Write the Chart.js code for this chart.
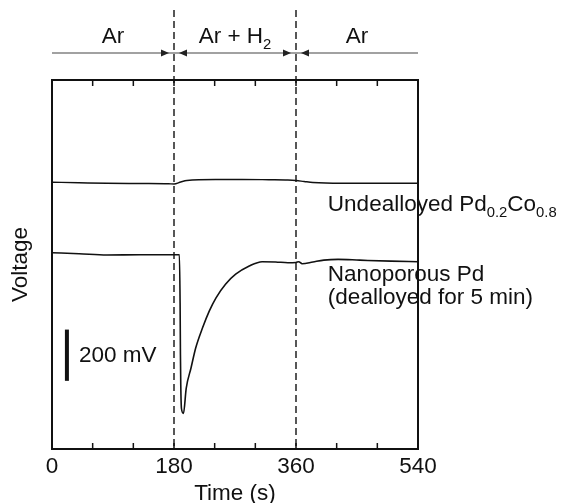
<!DOCTYPE html>
<html>
<head>
<meta charset="utf-8">
<title>Voltage response in Ar / Ar + H2</title>
<script src="https://cdn.jsdelivr.net/npm/chart.js@4.4.1/dist/chart.umd.min.js"></script>
<style>
  html, body { margin: 0; padding: 0; background: #fff; }
  #wrap { width: 565px; height: 503px; position: relative; }
</style>
</head>
<body>
<div id="wrap"><canvas id="voltageChart"></canvas></div>
<script>
/* ================================================
   DATA  (time in s, voltage in mV, arbitrary offset)
================================================ */
const majorTicks    = [0, 180, 360, 540];
const gasSwitches   = [180, 360];
const gasPhaseNames = ['Ar', 'Ar + H', 'Ar'];
const gasPhaseSubs  = ['', '2', ''];

const undealloyedT  = [0, 40, 81, 130, 172, 180, 190, 199, 241, 280, 320, 348, 360, 372, 385, 427, 480, 540];
const undealloyedV  = [1041, 1039, 1037, 1036, 1035, 1034, 1042, 1048, 1052, 1052, 1051, 1050, 1048, 1044, 1040, 1037, 1037, 1037];

const nanoporousT   = [0, 40, 81, 130, 180, 188, 189, 189.5, 190, 191, 194, 198, 205, 212, 222, 232, 242, 256, 271, 291, 310, 330, 348, 360, 364, 369, 385, 401, 422, 454, 500, 540];
const nanoporousV   = [766, 762, 757, 758, 758, 758, 570, 368, 250, 158, 139, 237, 315, 394, 472, 538, 590, 643, 682, 714, 731, 730, 727, 728, 731, 723, 730, 737, 740, 737, 733, 731];

const scaleBarT     = [22, 22];
const scaleBarV     = [266, 466];
const scaleBarLabel = '200 mV';

/* ================================================
   STYLE
================================================ */
const FONT = "'Liberation Sans', Arial, Helvetica, sans-serif";
const INK  = '#111';
const SIZE = 22.5;

const toPoints = (ts, vs) => ts.map((t, i) => ({ x: t, y: vs[i] }));

// draw text made of [text, subscript] pairs
function drawParts(ctx, x, y, parts, align) {
  const sub = SIZE * 0.66;
  let w = 0;
  parts.forEach(([main, s]) => {
    ctx.font = `${SIZE}px ${FONT}`; w += ctx.measureText(main).width;
    ctx.font = `${sub}px ${FONT}`;  w += s ? ctx.measureText(s).width : 0;
  });
  let cx = align === 'center' ? x - w / 2 : x;
  ctx.textAlign = 'left';
  ctx.textBaseline = 'alphabetic';
  parts.forEach(([main, s]) => {
    ctx.font = `${SIZE}px ${FONT}`;
    ctx.fillText(main, cx, y);
    cx += ctx.measureText(main).width;
    if (s) {
      ctx.font = `${sub}px ${FONT}`;
      ctx.fillText(s, cx, y + 6);
      cx += ctx.measureText(s).width;
    }
  });
}

/* ================================================
   FRAME, GAS SWITCHES, ANNOTATIONS
================================================ */
const framePlugin = {
  id: 'frame',
  afterDatasetsDraw(chart) {
    const { ctx, chartArea: a, scales: { x, y } } = chart;
    ctx.save();
    ctx.strokeStyle = INK;
    ctx.fillStyle = INK;

    // box
    ctx.lineWidth = 2;
    ctx.strokeRect(a.left, a.top, a.right - a.left, a.bottom - a.top);

    // inward ticks top + bottom
    ctx.lineWidth = 1.5;
    x.ticks.forEach(t => {
      const px = x.getPixelForValue(t.value);
      ctx.beginPath();
      ctx.moveTo(px, a.bottom); ctx.lineTo(px, a.bottom - 6);
      ctx.moveTo(px, a.top);    ctx.lineTo(px, a.top + 6);
      ctx.stroke();
    });

    // dashed gas switch lines
    ctx.lineWidth = 1.4;
    ctx.setLineDash([7, 4]);
    gasSwitches.forEach(t => {
      const px = x.getPixelForValue(t);
      ctx.beginPath();
      ctx.moveTo(px, a.top - 70);
      ctx.lineTo(px, a.bottom);
      ctx.stroke();
    });
    ctx.setLineDash([]);

    // phase arrow line
    const arrowY = a.top - 27;
    ctx.strokeStyle = '#444';
    ctx.lineWidth = 1.2;
    ctx.beginPath();
    ctx.moveTo(a.left, arrowY);
    ctx.lineTo(a.right, arrowY);
    ctx.stroke();
    ctx.fillStyle = '#222';
    gasSwitches.forEach(t => {
      const px = x.getPixelForValue(t);
      [-1, 1].forEach(side => {
        const tip = px + side * 5, base = px + side * 13;
        ctx.beginPath();
        ctx.moveTo(tip, arrowY);
        ctx.lineTo(base, arrowY - 3.5);
        ctx.lineTo(base, arrowY + 3.5);
        ctx.closePath();
        ctx.fill();
      });
    });

    // phase names
    ctx.fillStyle = INK;
    const bounds = [x.min, ...gasSwitches, x.max];
    gasPhaseNames.forEach((name, i) => {
      const mid = (x.getPixelForValue(bounds[i]) + x.getPixelForValue(bounds[i + 1])) / 2;
      drawParts(ctx, mid, a.top - 37, [[name, gasPhaseSubs[i]]], 'center');
    });

    // curve labels
    const lx = x.getPixelForValue(407);
    drawParts(ctx, lx, y.getPixelForValue(930), [['Undealloyed Pd', '0.2'], ['Co', '0.8']], 'left');
    drawParts(ctx, lx, y.getPixelForValue(655), [['Nanoporous Pd', '']], 'left');
    drawParts(ctx, lx, y.getPixelForValue(565), [['(dealloyed for 5 min)', '']], 'left');

    // scale bar label
    ctx.font = `${SIZE}px ${FONT}`;
    ctx.textAlign = 'left';
    ctx.textBaseline = 'middle';
    ctx.fillText(scaleBarLabel,
      x.getPixelForValue(scaleBarT[0]) + 12,
      y.getPixelForValue((scaleBarV[0] + scaleBarV[1]) / 2) + 1);

    ctx.restore();
  }
};

/* ================================================
   CHART
================================================ */
new Chart(document.getElementById('voltageChart'), {
  type: 'line',
  data: {
    datasets: [
      {
        label: 'Undealloyed Pd0.2Co0.8',
        data: toPoints(undealloyedT, undealloyedV),
        borderColor: INK,
        borderWidth: 1.4,
        pointRadius: 0,
        cubicInterpolationMode: 'monotone',
      },
      {
        label: 'Nanoporous Pd',
        data: toPoints(nanoporousT, nanoporousV),
        borderColor: INK,
        borderWidth: 1.6,
        pointRadius: 0,
        cubicInterpolationMode: 'monotone',
      },
      {
        label: scaleBarLabel,
        data: toPoints(scaleBarT, scaleBarV),
        borderColor: INK,
        borderWidth: 4,
        borderCapStyle: 'butt',
        pointRadius: 0,
      },
    ],
  },
  options: {
    responsive: true,
    maintainAspectRatio: false,
    animation: false,
    events: [],
    layout: { padding: { top: 80, right: 147, bottom: 0, left: 0 } },
    plugins: { legend: { display: false }, tooltip: { enabled: false } },
    scales: {
      x: {
        type: 'linear',
        min: 0,
        max: 540,
        grid: { display: false, drawTicks: false },
        border: { display: false },
        ticks: {
          stepSize: 60,
          autoSkip: false,
          maxRotation: 0,
          padding: 4.5,
          color: INK,
          font: { family: FONT, size: SIZE, lineHeight: 1.2 },
          callback: v => (majorTicks.includes(v) ? v : ''),
        },
        title: {
          display: true,
          text: 'Time (s)',
          color: INK,
          padding: { top: 0, bottom: 0 },
          font: { family: FONT, size: SIZE, lineHeight: 0.8 },
        },
      },
      y: {
        min: 0,
        max: 1440,
        grid: { display: false, drawTicks: false },
        border: { display: false },
        ticks: { display: false },
        title: {
          display: true,
          text: 'Voltage',
          color: INK,
          padding: { top: 7, bottom: 18 },
          font: { family: FONT, size: SIZE, lineHeight: 1.2 },
        },
      },
    },
  },
  plugins: [framePlugin],
});
</script>
</body>
</html>
